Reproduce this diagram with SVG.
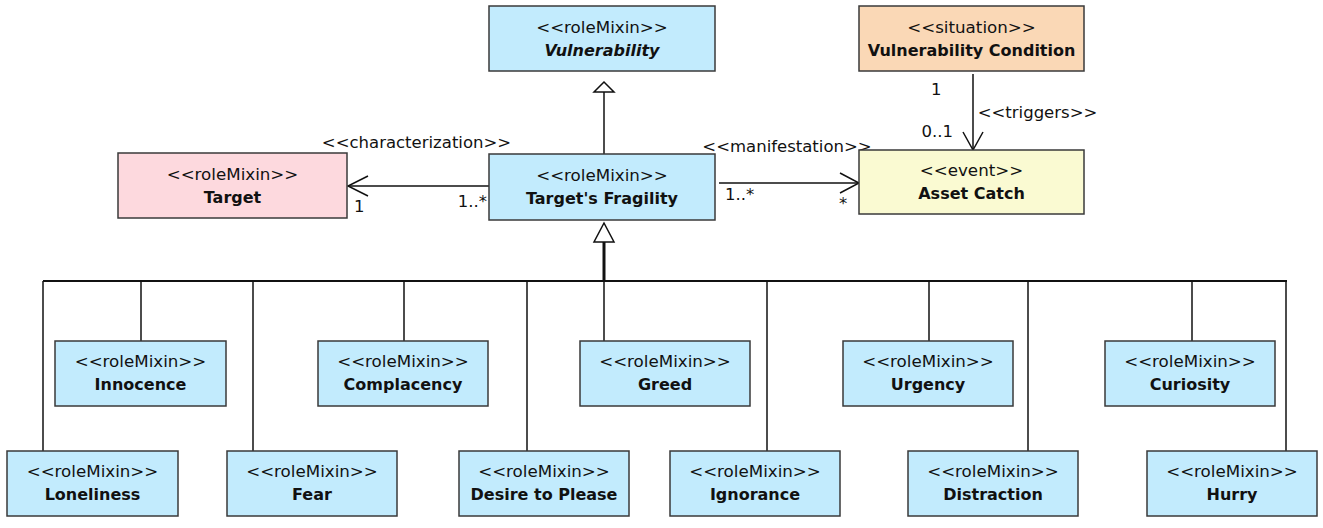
<svg xmlns="http://www.w3.org/2000/svg" width="1323" height="528" viewBox="0 0 1323 528">
<style>
  .box { stroke: #3a3a3a; stroke-width: 1.5; }
  .blue { fill: #C2EBFD; }
  .pink { fill: #FDD9DE; }
  .peach { fill: #FAD8B6; }
  .yellow { fill: #FAFAD2; }
  text { font-family: "DejaVu Sans", "Liberation Sans", sans-serif; fill: #111; }
  .st { font-size: 16.7px; text-anchor: middle; }
  .nm { font-size: 16px; font-weight: bold; text-anchor: middle; }
  .it { font-style: italic; }
  .lb { font-size: 16.5px; }
  .ln { stroke: #111; stroke-width: 1.5; fill: none; }
  .tri { stroke: #111; stroke-width: 1.5; fill: #fff; }
</style>
<rect width="1323" height="528" fill="#fff"/>

<g id="connectors">
  <!-- Target's Fragility -> Vulnerability -->
  <line class="ln" x1="604" y1="154" x2="604" y2="92"/>
  <polygon class="tri" points="604,82 594,92 614,92"/>
  <!-- characterization -->
  <line class="ln" x1="489" y1="186" x2="348" y2="186"/>
  <polyline class="ln" points="368,176 348,186 368,196"/>
  <text class="lb" x="416.5" y="148" text-anchor="middle">&lt;&lt;characterization&gt;&gt;</text>
  <text class="lb" x="487" y="207" text-anchor="end">1..*</text>
  <text class="lb" x="354" y="212">1</text>
  <!-- manifestation -->
  <line class="ln" x1="719" y1="183" x2="859" y2="183"/>
  <polyline class="ln" points="840,173 859,183 840,193"/>
  <text class="lb" x="787" y="152" text-anchor="middle">&lt;&lt;manifestation&gt;&gt;</text>
  <text class="lb" x="725" y="200">1..*</text>
  <text class="lb" x="839" y="209">*</text>
  <!-- triggers -->
  <line class="ln" x1="973" y1="74" x2="973" y2="150"/>
  <polyline class="ln" points="963,132 973,150 983,132"/>
  <text class="lb" x="1037.5" y="118" text-anchor="middle">&lt;&lt;triggers&gt;&gt;</text>
  <text class="lb" x="931" y="95">1</text>
  <text class="lb" x="953" y="137" text-anchor="end">0..1</text>
  <!-- generalization set -->
  <polygon class="tri" points="604,223 594,242 614,242"/>
  <line x1="604" y1="242" x2="604" y2="281" stroke="#111" stroke-width="3"/>
  <line x1="43" y1="281" x2="1287" y2="281" stroke="#111" stroke-width="2"/>
  <line class="ln" x1="43" y1="281" x2="43" y2="451"/>
  <line class="ln" x1="141" y1="281" x2="141" y2="341"/>
  <line class="ln" x1="253" y1="281" x2="253" y2="451"/>
  <line class="ln" x1="404" y1="281" x2="404" y2="341"/>
  <line class="ln" x1="527" y1="281" x2="527" y2="451"/>
  <line class="ln" x1="604" y1="281" x2="604" y2="341"/>
  <line class="ln" x1="767" y1="281" x2="767" y2="451"/>
  <line class="ln" x1="929" y1="281" x2="929" y2="341"/>
  <line class="ln" x1="1028" y1="281" x2="1028" y2="451"/>
  <line class="ln" x1="1192" y1="281" x2="1192" y2="341"/>
  <line class="ln" x1="1286" y1="281" x2="1286" y2="451"/>
</g>

<g id="vulnerability">
  <rect class="box blue" x="489" y="6" width="226" height="65"/>
  <text class="st" x="602" y="33">&lt;&lt;roleMixin&gt;&gt;</text>
  <text class="nm it" x="602" y="56">Vulnerability</text>
</g>
<g id="vulnerability-condition">
  <rect class="box peach" x="859" y="6" width="225" height="65"/>
  <text class="st" x="971.5" y="33">&lt;&lt;situation&gt;&gt;</text>
  <text class="nm" x="971.5" y="56">Vulnerability Condition</text>
</g>
<g id="target">
  <rect class="box pink" x="118" y="153" width="229" height="65"/>
  <text class="st" x="232.5" y="180">&lt;&lt;roleMixin&gt;&gt;</text>
  <text class="nm" x="232.5" y="203">Target</text>
</g>
<g id="targets-fragility">
  <rect class="box blue" x="489" y="154" width="226" height="66"/>
  <text class="st" x="602" y="181">&lt;&lt;roleMixin&gt;&gt;</text>
  <text class="nm" x="602" y="204">Target's Fragility</text>
</g>
<g id="asset-catch">
  <rect class="box yellow" x="859" y="150" width="225" height="64"/>
  <text class="st" x="971.5" y="176">&lt;&lt;event&gt;&gt;</text>
  <text class="nm" x="971.5" y="199">Asset Catch</text>
</g>

<g id="innocence">
  <rect class="box blue" x="55" y="341" width="171" height="65"/>
  <text class="st" x="140.5" y="367">&lt;&lt;roleMixin&gt;&gt;</text>
  <text class="nm" x="140.5" y="390">Innocence</text>
</g>
<g id="complacency">
  <rect class="box blue" x="318" y="341" width="170" height="65"/>
  <text class="st" x="403" y="367">&lt;&lt;roleMixin&gt;&gt;</text>
  <text class="nm" x="403" y="390">Complacency</text>
</g>
<g id="greed">
  <rect class="box blue" x="580" y="341" width="170" height="65"/>
  <text class="st" x="665" y="367">&lt;&lt;roleMixin&gt;&gt;</text>
  <text class="nm" x="665" y="390">Greed</text>
</g>
<g id="urgency">
  <rect class="box blue" x="843" y="341" width="170" height="65"/>
  <text class="st" x="928" y="367">&lt;&lt;roleMixin&gt;&gt;</text>
  <text class="nm" x="928" y="390">Urgency</text>
</g>
<g id="curiosity">
  <rect class="box blue" x="1105" y="341" width="170" height="65"/>
  <text class="st" x="1190" y="367">&lt;&lt;roleMixin&gt;&gt;</text>
  <text class="nm" x="1190" y="390">Curiosity</text>
</g>

<g id="loneliness">
  <rect class="box blue" x="7" y="451" width="171" height="65"/>
  <text class="st" x="92.5" y="477">&lt;&lt;roleMixin&gt;&gt;</text>
  <text class="nm" x="92.5" y="500">Loneliness</text>
</g>
<g id="fear">
  <rect class="box blue" x="227" y="451" width="170" height="65"/>
  <text class="st" x="312" y="477">&lt;&lt;roleMixin&gt;&gt;</text>
  <text class="nm" x="312" y="500">Fear</text>
</g>
<g id="desire-to-please">
  <rect class="box blue" x="459" y="451" width="170" height="65"/>
  <text class="st" x="544" y="477">&lt;&lt;roleMixin&gt;&gt;</text>
  <text class="nm" x="544" y="500">Desire to Please</text>
</g>
<g id="ignorance">
  <rect class="box blue" x="670" y="451" width="170" height="65"/>
  <text class="st" x="755" y="477">&lt;&lt;roleMixin&gt;&gt;</text>
  <text class="nm" x="755" y="500">Ignorance</text>
</g>
<g id="distraction">
  <rect class="box blue" x="908" y="451" width="170" height="65"/>
  <text class="st" x="993" y="477">&lt;&lt;roleMixin&gt;&gt;</text>
  <text class="nm" x="993" y="500">Distraction</text>
</g>
<g id="hurry">
  <rect class="box blue" x="1147" y="451" width="170" height="65"/>
  <text class="st" x="1232" y="477">&lt;&lt;roleMixin&gt;&gt;</text>
  <text class="nm" x="1232" y="500">Hurry</text>
</g>
</svg>
